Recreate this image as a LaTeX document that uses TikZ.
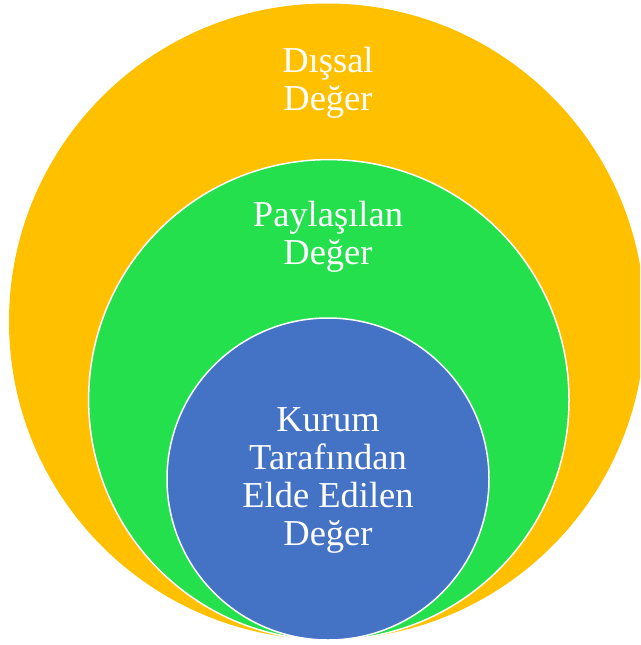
\documentclass[tikz,border=0pt]{standalone}
\usepackage{fontspec}
\setmainfont{Liberation Serif}
\definecolor{outerorange}{HTML}{FFC000}
\definecolor{midgreen}{HTML}{24E04C}
\definecolor{innerblue}{HTML}{4472C4}
\begin{document}
\begin{tikzpicture}[x=1pt,y=-1pt,
  ring/.style={draw=white,line width=1.5pt},
  lbl/.style={text=white,align=center,inner sep=0pt,anchor=base,
    font=\fontsize{36.5}{37.8}\selectfont}]
\useasboundingbox (0,0) rectangle (640,645);
\clip (0,0) rectangle (640,645);
\fill[outerorange] (327,321.5) circle[radius=318];
\filldraw[ring,fill=midgreen] (328.8,399.8) circle[radius=240.2];
\filldraw[ring,fill=innerblue] (328,479) circle[radius=161];
\node[lbl] (ext) at (328,110.5) {Dışsal\\Değer};
\node[lbl] (shared) at (328,264.5) {Paylaşılan\\Değer};
\node[lbl] (firm) at (328,545) {Kurum\\Tarafından\\Elde Edilen\\Değer};
\end{tikzpicture}
\end{document}
